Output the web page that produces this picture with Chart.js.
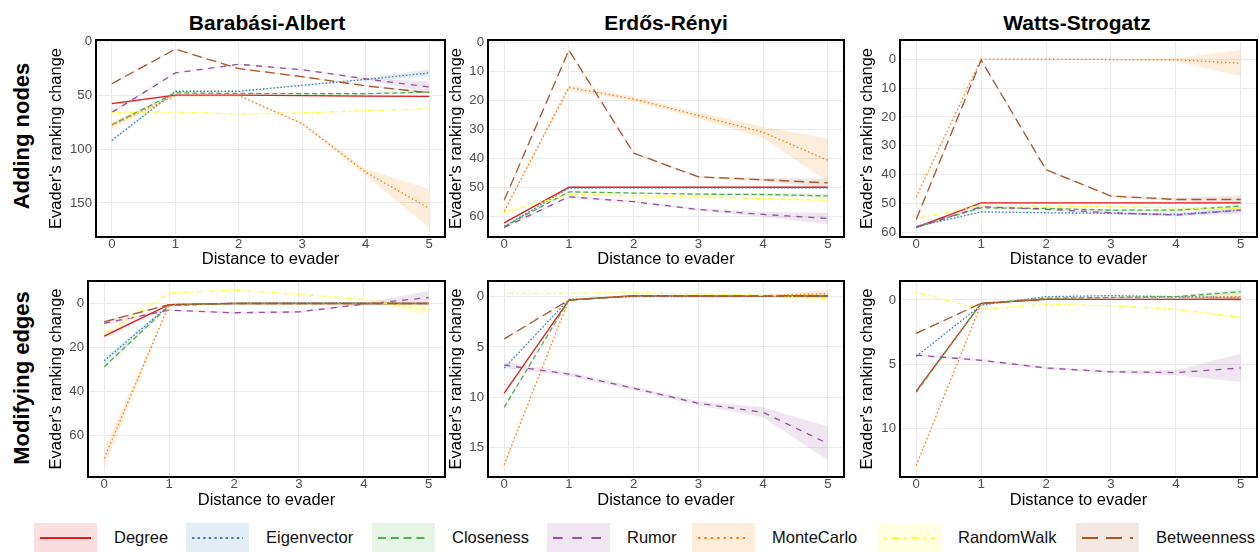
<!DOCTYPE html>
<html>
<head>
<meta charset="utf-8">
<script src="https://cdn.jsdelivr.net/npm/chart.js@4/dist/chart.umd.min.js"></script>
<style>
  body { margin: 0; width: 1260px; height: 552px; background: #fff; position: relative; overflow: hidden;
         font-family: "Liberation Sans", Arial, sans-serif; }
  canvas { position: absolute; }
  .title { position: absolute; top: 12px; font-size: 21px; line-height: 21px; font-weight: bold; color: #000;
           transform: translateX(-50%); white-space: nowrap; }
  .row { position: absolute; font-size: 22px; font-weight: bold; color: #000; white-space: nowrap;
         transform: translate(-50%, -50%) rotate(-90deg); }
  .key { position: absolute; top: 523px; width: 63px; height: 29px; }
  .key svg { position: absolute; left: 0; top: 0; }
  .lab { position: absolute; top: 523px; height: 29px; line-height: 29px; font-size: 16.5px; color: #111; white-space: nowrap; }
</style>
</head>
<body>
<div class="title" style="left:267px">Barabási-Albert</div>
<div class="title" style="left:666px">Erdős-Rényi</div>
<div class="title" style="left:1077px">Watts-Strogatz</div>
<div class="row" style="left:22px; top:136px">Adding nodes</div>
<div class="row" style="left:22px; top:378px">Modifying edges</div>
<canvas id="c1"></canvas>
<canvas id="c2"></canvas>
<canvas id="c3"></canvas>
<canvas id="c4"></canvas>
<canvas id="c5"></canvas>
<canvas id="c6"></canvas>
<div id="legend"></div>
<script>
const distances = [0, 1, 2, 3, 4, 5];
const methods = ["Degree", "Eigenvector", "Closeness", "Rumor", "MonteCarlo", "RandomWalk", "Betweenness"];
const colors = ["#e41a1c", "#377eb8", "#4daf4a", "#984ea3", "#ff7f00", "#ffff33", "#a65628"];
const dashes = [[], [1.5, 2], [5, 3], [6, 6], [1.5, 2.5], [1.5, 3, 5, 3], [10, 5]];

// mean ranking change, one row per method (same order as methods)
const baAdd = [
  [58, 50, 50, 50.5, 51, 51.3],
  [92, 46.5, 46.5, 41, 35.5, 29.5],
  [77.5, 48, 48.5, 48.8, 48.8, 47.2],
  [66, 29.5, 21.5, 26.5, 35, 42.5],
  [78, 50.5, 50.5, 76.5, 121.5, 155],
  [66, 65.8, 67.5, 66.5, 64.5, 62.7],
  [39.5, 7.5, 25.5, 33, 41.5, 47.8]
];
const baAddSpread = [
  [1, 0.5, 0.5, 0.5, 0.5, 0.5],
  [1.5, 0.5, 0.5, 0.5, 1, 3.5],
  [1.5, 0.5, 0.5, 0.5, 0.5, 1],
  [1.5, 0.5, 0.5, 0.5, 1, 5],
  [3, 0.5, 0.5, 1, 3, 18],
  [0.5, 0.5, 0.5, 0.5, 0.5, 0.5],
  [0.5, 0.5, 0.5, 0.5, 0.5, 1]
];

const erAdd = [
  [62.3, 50, 50, 50, 50, 50],
  [63.6, 50.3, 50.2, 50.2, 50.2, 50.2],
  [63.6, 51.6, 52, 52.4, 52.5, 53],
  [63.9, 53.3, 55, 57.7, 59.4, 60.8],
  [58.3, 15.5, 19.5, 25.2, 31, 40.7],
  [58.8, 52.4, 53, 53.3, 53.9, 54.5],
  [54.5, 2.6, 38.2, 46.4, 47.4, 48.5]
];
const erAddSpread = [
  [0.3, 0.2, 0.2, 0.2, 0.2, 0.3],
  [0.3, 0.2, 0.2, 0.2, 0.2, 0.3],
  [0.3, 0.2, 0.2, 0.3, 0.4, 0.8],
  [0.3, 0.3, 0.3, 0.4, 0.8, 2],
  [0.5, 1, 0.8, 1, 2, 7.5],
  [0.3, 0.2, 0.2, 0.3, 0.4, 0.8],
  [0.3, 0.3, 0.3, 0.3, 0.6, 1.5]
];

const wsAdd = [
  [58.3, 49.8, 49.8, 49.8, 49.8, 49.8],
  [58, 52.9, 53.2, 53.4, 53.8, 52.3],
  [58, 51.5, 51.7, 52.3, 52.3, 50.9],
  [58.3, 51.1, 52, 53.2, 54, 52.3],
  [47.7, 0, 0, 0.1, 0.2, 1.4],
  [55.2, 50.6, 50.9, 51.1, 51.5, 51.7],
  [55.5, 0.3, 38.3, 47.4, 48.6, 48.6]
];
const wsAddSpread = [
  [0.3, 0.2, 0.2, 0.2, 0.2, 0.3],
  [0.3, 0.2, 0.2, 0.3, 0.4, 0.6],
  [0.3, 0.2, 0.2, 0.3, 0.4, 0.6],
  [0.3, 0.3, 0.3, 0.5, 0.5, 1.2],
  [0.3, 0.2, 0.2, 0.3, 0.6, 4.5],
  [0.3, 0.2, 0.2, 0.2, 0.3, 0.4],
  [0.3, 0.3, 0.3, 0.3, 0.5, 1.5]
];

const baEdge = [
  [14.8, 0.5, 0, 0, 0, 0],
  [26, 0.8, -0.2, -0.3, -0.2, 0],
  [28.7, 1, 0, 0, 0, 0],
  [9, 3, 4.2, 3.8, 0.3, -2.7],
  [70.2, 0.5, 0, 0, 0, 0],
  [13.9, -4.8, -6, -4.2, -1.8, 3.3],
  [8.3, 0.5, 0, 0, 0, 0]
];
const baEdgeSpread = [
  [0.8, 0.2, 0.1, 0.1, 0.1, 0.2],
  [1.5, 0.2, 0.1, 0.1, 0.1, 0.2],
  [1, 0.2, 0.1, 0.1, 0.1, 0.2],
  [0.8, 0.3, 0.5, 0.5, 0.5, 3],
  [4, 0.3, 0.1, 0.1, 0.1, 0.3],
  [0.8, 0.3, 0.3, 0.3, 0.5, 2.5],
  [0.5, 0.2, 0.1, 0.1, 0.1, 0.2]
];

const erEdge = [
  [9.6, 0.33, -0.1, -0.07, -0.07, -0.07],
  [7.1, 0.27, 0, 0, 0, 0],
  [11, 0.33, -0.1, -0.1, -0.1, -0.1],
  [6.8, 7.7, 9.1, 10.6, 11.5, 14.6],
  [16.7, 0.3, -0.1, -0.1, -0.1, -0.3],
  [-0.33, -0.33, -0.4, -0.25, -0.15, 0.2],
  [4.2, 0.33, -0.07, -0.07, -0.07, -0.07]
];
const erEdgeSpread = [
  [0.1, 0.02, 0.02, 0.02, 0.02, 0.05],
  [0.1, 0.02, 0.02, 0.02, 0.02, 0.05],
  [0.1, 0.02, 0.02, 0.02, 0.02, 0.05],
  [0.3, 0.2, 0.2, 0.2, 0.5, 1.7],
  [0.2, 0.02, 0.02, 0.02, 0.05, 0.4],
  [0.05, 0.05, 0.05, 0.05, 0.1, 0.4],
  [0.1, 0.02, 0.02, 0.02, 0.02, 0.05]
];

const wsEdge = [
  [7.1, 0.26, -0.05, -0.05, -0.05, -0.05],
  [4.4, 0.4, -0.26, -0.34, -0.26, -0.18],
  [7.2, 0.26, -0.13, -0.2, -0.26, -0.65],
  [4.3, 4.7, 5.3, 5.6, 5.66, 5.3],
  [12.9, 0.33, -0.13, -0.2, -0.2, -0.26],
  [-0.6, 0.73, 0.34, 0.44, 0.73, 1.35],
  [2.6, 0.26, -0.05, -0.05, -0.05, -0.05]
];
const wsEdgeSpread = [
  [0.05, 0.02, 0.02, 0.02, 0.02, 0.1],
  [0.05, 0.02, 0.02, 0.02, 0.02, 0.1],
  [0.05, 0.02, 0.02, 0.02, 0.05, 0.2],
  [0.1, 0.1, 0.1, 0.1, 0.2, 1.1],
  [0.1, 0.02, 0.02, 0.02, 0.05, 0.3],
  [0.05, 0.02, 0.02, 0.02, 0.05, 0.15],
  [0.05, 0.02, 0.02, 0.02, 0.02, 0.1]
];

// y axis ranges / tick labels per panel
const baAddTicks = [0, 50, 100, 150];
const erAddTicks = [0, 10, 20, 30, 40, 50, 60];
const wsAddTicks = [0, 10, 20, 30, 40, 50, 60];
const baEdgeTicks = [0, 20, 40, 60];
const erEdgeTicks = [0, 5, 10, 15];
const wsEdgeTicks = [0, 5, 10];

// layout: canvas left edge, plot area [left, top, right, bottom], x axis height
const panels = [
  { id: "c1", mean: baAdd, spread: baAddSpread, ticks: baAddTicks, yMin: -1, yMax: 181.5, left: 47, area: [96, 40, 445, 237], xh: 32 },
  { id: "c2", mean: erAdd, spread: erAddSpread, ticks: erAddTicks, yMin: -0.9, yMax: 67.2, left: 447, area: [488, 40, 844, 237], xh: 32 },
  { id: "c3", mean: wsAdd, spread: wsAddSpread, ticks: wsAddTicks, yMin: -6.66, yMax: 61.6, left: 858, area: [900, 40, 1257, 237], xh: 32 },
  { id: "c4", mean: baEdge, spread: baEdgeSpread, ticks: baEdgeTicks, yMin: -10.2, yMax: 78.7, left: 47, area: [88, 281, 445, 477], xh: 33 },
  { id: "c5", mean: erEdge, spread: erEdgeSpread, ticks: erEdgeTicks, yMin: -1.56, yMax: 17.93, left: 447, area: [488, 281, 844, 477], xh: 33 },
  { id: "c6", mean: wsEdge, spread: wsEdgeSpread, ticks: wsEdgeTicks, yMin: -1.48, yMax: 13.8, left: 858, area: [900, 281, 1257, 477], xh: 33 }
];

Chart.defaults.font.family = '"Liberation Sans", Arial, sans-serif';

function alpha(hex, a) {
  const n = parseInt(hex.slice(1), 16);
  return `rgba(${n >> 16}, ${(n >> 8) & 255}, ${n & 255}, ${a})`;
}

const panelBorder = {
  id: "panelBorder",
  afterDraw(chart) {
    const a = chart.chartArea, ctx = chart.ctx;
    ctx.save();
    ctx.strokeStyle = "#000";
    ctx.lineWidth = 2;
    ctx.strokeRect(a.left, a.top, a.right - a.left, a.bottom - a.top);
    ctx.restore();
  }
};

panels.forEach(p => {
  const canvas = document.getElementById(p.id);
  const padTop = 12, padRight = 3;
  const top = p.area[1] - padTop;
  const w = p.area[2] + padRight - p.left;
  const h = p.area[3] + p.xh - top;
  canvas.style.left = p.left + "px";
  canvas.style.top = top + "px";
  canvas.width = w;
  canvas.height = h;

  const datasets = [];
  // confidence ribbons first (lower, then upper filled to lower)
  methods.forEach((m, i) => {
    const mean = p.mean[i], sp = p.spread[i];
    datasets.push({
      data: distances.map((d, j) => ({ x: d, y: mean[j] - sp[j] })),
      borderWidth: 0, pointRadius: 0, fill: false, order: 20
    });
    datasets.push({
      data: distances.map((d, j) => ({ x: d, y: mean[j] + sp[j] })),
      borderWidth: 0, pointRadius: 0, order: 20,
      fill: "-1", backgroundColor: alpha(colors[i], 0.14)
    });
  });
  methods.forEach((m, i) => {
    datasets.push({
      label: m,
      data: distances.map((d, j) => ({ x: d, y: p.mean[i][j] })),
      borderColor: colors[i],
      borderDash: dashes[i],
      borderWidth: 1.3,
      pointRadius: 0,
      tension: 0,
      fill: false,
      order: 10 - i
    });
  });

  new Chart(canvas, {
    type: "line",
    data: { datasets },
    plugins: [panelBorder],
    options: {
      responsive: false,
      animation: false,
      layout: { padding: { top: padTop, right: padRight, left: 0, bottom: 0 } },
      plugins: { legend: { display: false }, tooltip: { enabled: false } },
      scales: {
        x: {
          type: "linear", min: -0.25, max: 5.25,
          afterBuildTicks: s => { s.ticks = distances.map(v => ({ value: v })); },
          afterFit: s => { s.height = p.xh; },
          grid: { color: "#ebebeb", lineWidth: 1, drawTicks: false },
          border: { display: false },
          ticks: { color: "#4d4d4d", font: { size: 13.2 }, padding: -1, maxRotation: 0 },
          title: { display: true, text: "Distance to evader", color: "#000", font: { size: 16.5 }, padding: 0 }
        },
        y: {
          type: "linear", reverse: true, min: p.yMin, max: p.yMax,
          afterBuildTicks: s => { s.ticks = p.ticks.map(v => ({ value: v })); },
          afterFit: s => { s.width = p.area[0] - p.left; },
          grid: { color: "#ebebeb", lineWidth: 1, drawTicks: false },
          border: { display: false },
          ticks: { color: "#4d4d4d", font: { size: 13.2 }, padding: 4 },
          title: { display: true, text: "Evader's ranking change", color: "#000", font: { size: 16.5 }, padding: 0 }
        }
      }
    }
  });
});

// legend
const keyLeft = [34, 186, 372, 547, 692, 878, 1076];
const legend = document.getElementById("legend");
methods.forEach((m, i) => {
  const key = document.createElement("div");
  key.className = "key";
  key.style.left = keyLeft[i] + "px";
  key.style.background = alpha(colors[i], 0.14);
  const dash = dashes[i].map(v => v * 1.6).join(" ");
  key.innerHTML = `<svg width="63" height="29"><line x1="6" y1="15" x2="57" y2="15" stroke="${colors[i]}" stroke-width="2.2" stroke-dasharray="${dash}"/></svg>`;
  legend.appendChild(key);
  const lab = document.createElement("div");
  lab.className = "lab";
  lab.style.left = (keyLeft[i] + 80) + "px";
  lab.textContent = m;
  legend.appendChild(lab);
});
</script>
</body>
</html>
